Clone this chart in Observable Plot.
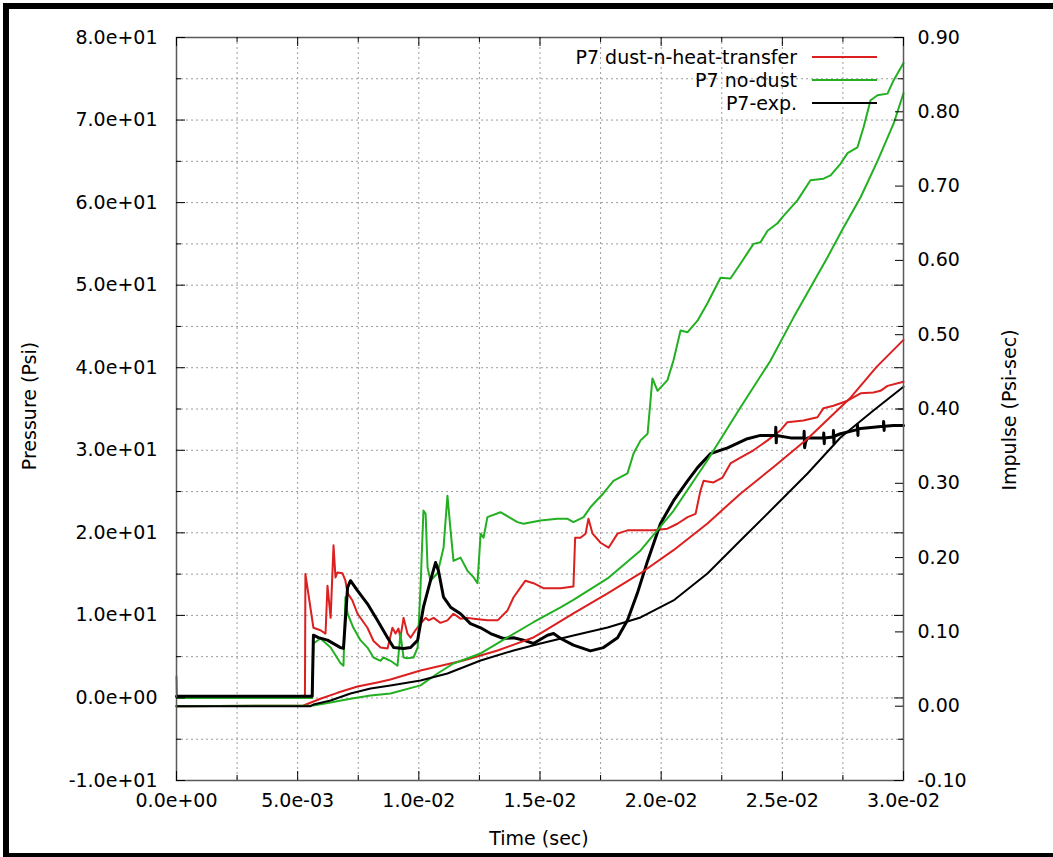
<!DOCTYPE html>
<html><head><meta charset="utf-8">
<script src="https://cdn.jsdelivr.net/npm/d3@7"></script>
<script src="https://cdn.jsdelivr.net/npm/@observablehq/plot@0.6"></script>
<style>
html,body{margin:0;padding:0;background:#fff;}
#wrap{position:relative;width:1053px;height:857px;overflow:hidden;font-family:"DejaVu Sans",sans-serif;background:#fff;}
#wrap svg{position:absolute;left:0;top:0;}
.bar{position:absolute;background:#000;}
.lbl{position:absolute;font-size:19px;color:#000;white-space:nowrap;line-height:1;}
.rot{transform:translate(-50%,-50%) rotate(-90deg);}
.leg{position:absolute;left:0;top:0;}
</style></head><body><div id="wrap"></div>
<script>
// ---------- data (time in ms) ----------
const seriesNames = ["P7 dust-n-heat-transfer", "P7 no-dust", "P7-exp."];
const seriesColors = ["#dc1f1f", "#22b022", "#000000"];

// Pressure (Psi) traces [t_ms, P]
const redPressure = [[0,0.1],[5.30,0.1],[5.32,15.0],[5.65,8.5],[5.94,8.2],[6.15,7.8],[6.23,13.6],[6.36,9.7],[6.48,18.5],[6.56,14.6],[6.64,15.2],[6.85,15.1],[6.97,14.2],[7.06,12.7],[7.26,11.8],[7.47,10.2],[7.88,8.5],[8.13,6.9],[8.42,6.1],[8.71,6.0],[8.91,8.5],[9.04,7.8],[9.16,8.4],[9.24,7.3],[9.37,9.7],[9.53,7.8],[9.66,7.3],[9.86,8.2],[10.07,9.0],[10.28,9.7],[10.40,9.4],[10.61,9.7],[10.89,9.1],[11.18,9.4],[11.43,10.2],[11.72,9.6],[12.01,9.7],[12.26,9.6],[12.83,9.4],[13.25,9.4],[13.66,10.6],[13.91,12.2],[14.20,13.4],[14.40,14.2],[14.73,13.9],[15.14,13.3],[15.85,13.3],[16.38,13.5],[16.45,19.4],[16.67,19.4],[16.88,19.9],[17.00,21.7],[17.17,19.9],[17.50,18.8],[17.83,18.2],[18.20,19.9],[18.61,20.3],[19.15,20.3],[19.68,20.3],[20.26,20.5],[20.67,21.1],[21.09,21.9],[21.42,22.3],[21.62,25.1],[21.75,26.3],[22.16,26.1],[22.53,26.7],[22.86,28.4],[23.27,29.1],[23.81,30.0],[24.39,31.2],[24.92,32.4],[25.21,33.4],[25.87,33.6],[26.45,34.0],[26.70,35.1],[27.11,35.4],[27.69,36.0],[28.23,36.9],[28.76,37.0],[29.05,37.2],[29.34,37.8],[29.88,38.2],[30.0,38.3]];
const greenPressure = [[0,2.6],[0.02,0.0],[5.60,0.0],[5.65,6.6],[5.94,7.2],[6.36,6.1],[6.77,4.2],[6.89,3.9],[6.97,12.2],[7.06,10.2],[7.30,8.5],[7.59,7.0],[7.88,6.1],[8.13,4.9],[8.42,4.5],[8.54,4.9],[8.83,4.5],[9.12,3.9],[9.24,7.8],[9.37,4.9],[9.53,4.8],[9.78,4.9],[9.95,6.1],[10.07,13.4],[10.19,22.7],[10.28,22.3],[10.36,15.8],[10.48,14.2],[10.77,15.1],[11.02,18.2],[11.18,24.5],[11.31,20.3],[11.43,16.6],[11.72,17.0],[12.01,15.4],[12.26,14.6],[12.42,13.9],[12.55,19.9],[12.67,19.4],[12.83,21.9],[13.37,22.5],[14.07,21.3],[14.32,21.1],[15.02,21.5],[15.72,21.7],[16.14,21.7],[16.38,21.3],[16.80,21.9],[17.08,23.1],[17.62,24.8],[18.03,26.3],[18.61,27.2],[18.86,29.6],[19.15,31.2],[19.44,32.0],[19.64,38.7],[19.85,37.2],[20.26,38.5],[20.51,40.9],[20.80,44.5],[21.09,44.3],[21.50,45.7],[21.91,47.8],[22.45,50.9],[22.86,50.8],[23.27,52.6],[23.81,55.0],[24.10,55.2],[24.39,56.6],[24.80,57.5],[25.05,58.4],[25.63,60.3],[26.16,62.7],[26.70,62.9],[26.99,63.3],[27.40,64.7],[27.69,66.0],[28.10,66.7],[28.35,69.1],[28.64,72.4],[28.93,73.0],[29.34,73.2],[29.59,74.8],[30.0,76.9]];
const blackPressure = [[0,0.2],[5.60,0.2],[5.65,7.6],[5.86,7.3],[6.23,7.0],[6.77,6.1],[6.89,6.0],[7.06,13.4],[7.18,14.2],[7.47,13.0],[7.88,11.4],[8.29,9.4],[8.71,7.3],[8.96,6.1],[9.37,6.0],[9.66,6.1],[9.95,7.0],[10.19,11.0],[10.48,14.2],[10.69,16.4],[10.81,15.4],[11.02,12.2],[11.31,11.0],[11.72,10.2],[12.13,9.0],[12.55,8.5],[12.96,7.8],[13.49,7.2],[13.91,7.3],[14.32,7.0],[14.73,6.6],[15.31,7.6],[15.56,7.8],[15.85,7.2],[16.38,6.4],[17.08,5.7],[17.62,6.1],[18.20,7.3],[18.61,9.4],[19.02,12.7],[19.44,16.6],[19.97,21.1],[20.51,23.9],[21.09,26.3],[21.50,27.9],[22.04,29.6],[22.74,30.3],[23.56,31.4],[24.10,31.8],[24.72,31.8],[24.73,32.8],[24.75,30.9],[24.76,31.8],[25.34,31.5],[25.89,31.5],[25.90,32.3],[25.92,30.3],[25.96,31.0],[26.04,31.5],[26.70,31.5],[26.71,32.1],[26.73,30.8],[26.74,31.5],[27.10,31.6],[27.11,32.4],[27.13,30.8],[27.14,31.7],[27.40,32.0],[28.09,32.5],[28.10,33.1],[28.12,31.8],[28.13,32.6],[28.76,32.8],[29.17,32.9],[29.18,33.5],[29.20,32.4],[29.21,32.9],[29.59,33.0],[30.0,33.0]];

// Impulse (Psi-sec) curves [t_ms, I]
const redImpulse = [[0,0],[5.24,0.001],[5.94,0.010],[6.64,0.018],[7.47,0.0265],[8.29,0.032],[8.83,0.036],[10.07,0.048],[11.84,0.0615],[13.25,0.075],[14.73,0.0925],[15.02,0.098],[16.38,0.125],[17.79,0.152],[19.15,0.179],[20.51,0.210],[21.91,0.246],[23.27,0.286],[24.64,0.322],[26.04,0.360],[27.78,0.414],[28.90,0.457],[30.0,0.493]];
const greenImpulse = [[0,0],[5.65,0.001],[6.36,0.005],[7.18,0.010],[8.01,0.0144],[8.83,0.0171],[10.07,0.028],[10.77,0.044],[11.43,0.0575],[12.55,0.071],[13.66,0.0925],[14.73,0.113],[15.85,0.133],[16.38,0.143],[17.79,0.172],[19.15,0.2096],[20.51,0.263],[21.91,0.331],[23.27,0.402],[24.51,0.465],[25.46,0.523],[26.16,0.5635],[26.86,0.604],[27.52,0.644],[28.23,0.685],[28.93,0.734],[29.59,0.784],[30.0,0.825]];
const blackImpulse = [[0,0],[5.53,0],[5.65,0.0023],[6.36,0.0077],[7.18,0.0171],[8.01,0.0238],[8.83,0.0279],[10.07,0.0346],[11.18,0.044],[12.55,0.0615],[13.91,0.075],[15.02,0.0844],[16.38,0.0952],[17.79,0.1059],[19.15,0.1194],[20.51,0.1423],[21.91,0.1786],[23.27,0.223],[24.64,0.2674],[26.04,0.3132],[27.40,0.3616],[28.76,0.398],[30.0,0.430]];

// axes
const timeDomain = [0, 0.03];
const pressureDomain = [-10, 80];
const impulseDomain = [-0.10, 0.90];
const timeMajor = [0, 0.005, 0.01, 0.015, 0.02, 0.025, 0.03];
const timeMinor = [0.0025, 0.0075, 0.0125, 0.0175, 0.0225, 0.0275];
const pressureMajor = [-10, 0, 10, 20, 30, 40, 50, 60, 70, 80];
const pressureMinor = [-5, 5, 15, 25, 35, 45, 55, 65, 75];
const impulseMajor = [-0.1, 0, 0.1, 0.2, 0.3, 0.4, 0.5, 0.6, 0.7, 0.8, 0.9];

// ---------- layout ----------
const W = 1053, H = 857, ML = 176, MR = 150, MT = 37, MB = 77;
const FW = W - ML - MR, FH = H - MT - MB;

// impulse axis shares the frame: map impulse values onto pressure units
const kI = (pressureDomain[1] - pressureDomain[0]) / (impulseDomain[1] - impulseDomain[0]);
const toP = v => pressureDomain[0] + (v - impulseDomain[0]) * kI;
const fromP = p => impulseDomain[0] + (p - pressureDomain[0]) / kI;
const fmtE = d => d.toExponential(1).replace(/e([+-])(\d)$/, "e$10$2");

const press = [redPressure, greenPressure, blackPressure];
const imp = [redImpulse, greenImpulse, blackImpulse];
const pWidth = [2, 2, 3];
const iWidth = [2, 2, 2];

const marks = [
  Plot.gridY(pressureMajor.concat(pressureMinor).filter(d => d > -10 && d < 80), {stroke: "#9c9c9c", strokeOpacity: 1, strokeDasharray: "2,3"}),
  Plot.gridX(timeMajor.concat(timeMinor).filter(d => d > 0 && d < 0.03), {stroke: "#9c9c9c", strokeOpacity: 1, strokeDasharray: "2,3"}),
];
[0, 1, 2].forEach(i => {
  marks.push(Plot.line(press[i], {x: d => d[0] / 1000, y: d => d[1], stroke: seriesColors[i], strokeWidth: pWidth[i], strokeLinejoin: "round"}));
});
[0, 1, 2].forEach(i => {
  marks.push(Plot.line(imp[i], {x: d => d[0] / 1000, y: d => toP(d[1]), stroke: seriesColors[i], strokeWidth: iWidth[i], strokeLinejoin: "round"}));
});
marks.push(
  Plot.frame({stroke: "#5a5a5a", strokeWidth: 1.5}),
  // inward tick marks (gnuplot style)
  Plot.tickY(pressureMajor, {y: d => d, insetRight: FW - 9, stroke: "#000"}),
  Plot.tickY(pressureMinor, {y: d => d, insetRight: FW - 5, stroke: "#000"}),
  Plot.tickY(pressureMajor, {y: d => d, insetLeft: FW - 9, stroke: "#000"}),
  Plot.tickY(pressureMinor, {y: d => d, insetLeft: FW - 5, stroke: "#000"}),
  Plot.tickY(impulseMajor, {y: d => toP(d), insetLeft: FW - 8, stroke: "#000"}),
  Plot.tickX(timeMajor, {x: d => d, insetTop: FH - 9, stroke: "#000"}),
  Plot.tickX(timeMinor, {x: d => d, insetTop: FH - 5, stroke: "#000"}),
  Plot.tickX(timeMajor, {x: d => d, insetBottom: FH - 9, stroke: "#000"}),
  Plot.tickX(timeMinor, {x: d => d, insetBottom: FH - 5, stroke: "#000"}),
  Plot.axisY(pressureMajor, {anchor: "left", tickSize: 0, tickPadding: 19, tickFormat: fmtE, label: null}),
  Plot.axisY(impulseMajor.map(toP), {anchor: "right", tickSize: 0, tickPadding: 14, tickFormat: d => fromP(d).toFixed(2), label: null}),
  Plot.axisX(timeMajor, {anchor: "bottom", tickSize: 0, tickPadding: 13, tickFormat: fmtE, label: null})
);

const chart = Plot.plot({
  width: W, height: H,
  marginLeft: ML, marginRight: MR, marginTop: MT, marginBottom: MB,
  x: {domain: timeDomain},
  y: {domain: pressureDomain},
  style: {fontFamily: "DejaVu Sans", fontSize: "19px", color: "#000", background: "transparent", overflow: "visible"},
  marks
});

const wrap = document.getElementById("wrap");
wrap.appendChild(chart);

// outer black frame
function bar(l, t, w, h) { const d = document.createElement("div"); d.className = "bar"; Object.assign(d.style, {left: l + "px", top: t + "px", width: w + "px", height: h + "px"}); wrap.appendChild(d); }
bar(3, 3, 6, 854);
bar(3, 3, 1050, 6);
bar(3, 853, 1050, 4);

// axis titles
function label(text, x, y, rot) {
  const d = document.createElement("div");
  d.className = "lbl" + (rot ? " rot" : "");
  d.textContent = text;
  d.style.left = x + "px"; d.style.top = y + "px";
  if (!rot) d.style.transform = "translate(-50%,-50%)";
  wrap.appendChild(d);
}
label("Time (sec)", 539, 838, false);
label("Pressure (Psi)", 29, 406, true);
label("Impulse (Psi-sec)", 1009, 410, true);

// legend (top-right, inside the plot)
const ns = "http://www.w3.org/2000/svg";
const leg = document.createElementNS(ns, "svg");
leg.setAttribute("width", W); leg.setAttribute("height", 140); leg.setAttribute("class", "leg");
leg.style.fontFamily = "DejaVu Sans"; leg.style.fontSize = "19px";
seriesNames.forEach((name, i) => {
  const y = 57 + i * 23;
  const t = document.createElementNS(ns, "text");
  t.setAttribute("x", 797); t.setAttribute("y", y); t.setAttribute("text-anchor", "end");
  t.setAttribute("dy", "0.35em"); t.setAttribute("fill", "#000");
  t.textContent = name; leg.appendChild(t);
  const l = document.createElementNS(ns, "line");
  l.setAttribute("x1", 812); l.setAttribute("x2", 877); l.setAttribute("y1", y); l.setAttribute("y2", y);
  l.setAttribute("stroke", seriesColors[i]); l.setAttribute("stroke-width", 2);
  leg.appendChild(l);
});
wrap.appendChild(leg);
</script>
</body></html>
